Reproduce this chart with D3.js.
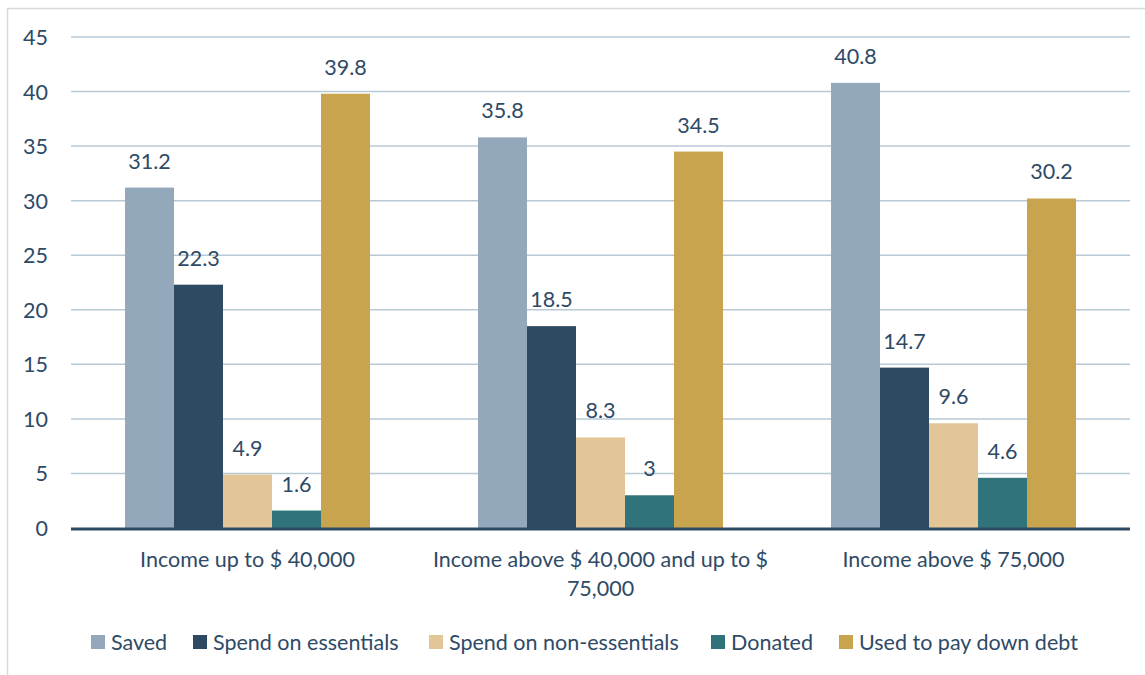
<!DOCTYPE html>
<html>
<head>
<meta charset="utf-8">
<script src="https://cdn.jsdelivr.net/npm/d3@7"></script>
<style>
  body { margin: 0; background: #fff; }
  svg text { font-family: Lato, "Open Sans", sans-serif; fill: #2e4a66; }
</style>
</head>
<body>
<svg id="chart"></svg>
<script>
const width = 1145;
const height = 675;
const margin = { top: 37, right: 15, bottom: 147, left: 71 };

const groups = ['Income up to $ 40,000', 'Income above $ 40,000 and up to $ 75,000', 'Income above $ 75,000'];
const groupLines = [['Income up to $ 40,000'], ['Income above $ 40,000 and up to $', '75,000'], ['Income above $ 75,000']];
const series = ['Saved', 'Spend on essentials', 'Spend on non-essentials', 'Donated', 'Used to pay down debt'];
const colors = ['#94a8bc', '#2e4a63', '#e2c697', '#31737b', '#c9a44e'];

const saved = [31.2, 35.8, 40.8];
const essentials = [22.3, 18.5, 14.7];
const nonEssentials = [4.9, 8.3, 9.6];
const donated = [1.6, 3, 4.6];
const debt = [39.8, 34.5, 30.2];
const yTicks = [0, 5, 10, 15, 20, 25, 30, 35, 40, 45];

const seriesValues = [saved, essentials, nonEssentials, donated, debt];
const data = groups.map((g, i) => ({
    group: g,
    values: series.map((s, j) => ({ key: s, value: seriesValues[j][i] }))
}));

const fontSize = '21.5px';

const svg = d3.select('#chart')
    .attr('width', width)
    .attr('height', height);

// outer frame
svg.append('rect')
    .attr('x', 7.5)
    .attr('y', 8.5)
    .attr('width', width + 20)
    .attr('height', height + 20)
    .attr('fill', 'none')
    .attr('stroke', '#d9d9d9')
    .attr('stroke-width', 1.5);

const x0 = d3.scaleBand()
    .domain(groups)
    .range([margin.left, width - margin.right])
    .paddingInner(0.306)
    .paddingOuter(0.153);

const x1 = d3.scaleBand()
    .domain(series)
    .range([0, x0.bandwidth()]);

const y = d3.scaleLinear()
    .domain([0, 45])
    .range([height - margin.bottom, margin.top]);

const color = d3.scaleOrdinal(colors).domain(series);

// gridlines
svg.append('g')
    .selectAll('line')
    .data(yTicks.slice(1))
    .enter()
    .append('line')
    .attr('x1', margin.left)
    .attr('x2', width - margin.right)
    .attr('y1', d => y(d))
    .attr('y2', d => y(d))
    .attr('stroke', '#b8c9d6')
    .attr('stroke-width', 1.5);

// y axis labels
const yAxis = d3.axisLeft(y).tickValues(yTicks).tickSize(0).tickPadding(0);
const yG = svg.append('g')
    .attr('transform', `translate(${margin.left - 23},0)`)
    .call(yAxis);
yG.select('.domain').remove();
yG.selectAll('text')
    .style('font-size', fontSize)
    .style('font-family', null)
    .attr('font-family', null)
    .attr('dy', '0.35em');

// bars
const groupG = svg.append('g')
    .selectAll('g')
    .data(data)
    .enter()
    .append('g')
    .attr('transform', d => `translate(${x0(d.group)},0)`);

groupG.selectAll('rect')
    .data(d => d.values)
    .enter()
    .append('rect')
    .attr('x', d => x1(d.key))
    .attr('y', d => y(d.value))
    .attr('width', x1.bandwidth())
    .attr('height', d => y(0) - y(d.value))
    .attr('fill', d => color(d.key));

groupG.selectAll('text.lbl')
    .data(d => d.values)
    .enter()
    .append('text')
    .attr('class', 'lbl')
    .attr('x', d => x1(d.key) + x1.bandwidth() / 2)
    .attr('y', d => y(d.value) - 19)
    .attr('text-anchor', 'middle')
    .style('font-size', fontSize)
    .text(d => d.value);

// x axis line
svg.append('line')
    .attr('x1', margin.left)
    .attr('x2', width - margin.right)
    .attr('y1', y(0) + 1)
    .attr('y2', y(0) + 1)
    .attr('stroke', '#2e4a63')
    .attr('stroke-width', 3);

// category labels
svg.append('g')
    .selectAll('text')
    .data(groups)
    .enter()
    .append('text')
    .attr('x', d => x0(d) + x0.bandwidth() / 2)
    .attr('y', y(0) + 39)
    .attr('text-anchor', 'middle')
    .style('font-size', fontSize)
    .each(function (d, i) {
        d3.select(this).selectAll('tspan')
            .data(groupLines[i])
            .enter()
            .append('tspan')
            .attr('x', x0(d) + x0.bandwidth() / 2)
            .attr('dy', (t, k) => k === 0 ? 0 : 29)
            .text(t => t);
    });

// legend
const legendX = [91, 193, 429, 711, 839];
const legend = svg.append('g')
    .selectAll('g')
    .data(series)
    .enter()
    .append('g')
    .attr('transform', (d, i) => `translate(${legendX[i]},635)`);

legend.append('rect')
    .attr('width', 14)
    .attr('height', 14)
    .attr('fill', d => color(d));

legend.append('text')
    .attr('x', 20)
    .attr('y', 7)
    .attr('dy', '0.35em')
    .style('font-size', fontSize)
    .text(d => d);
</script>
</body>
</html>
